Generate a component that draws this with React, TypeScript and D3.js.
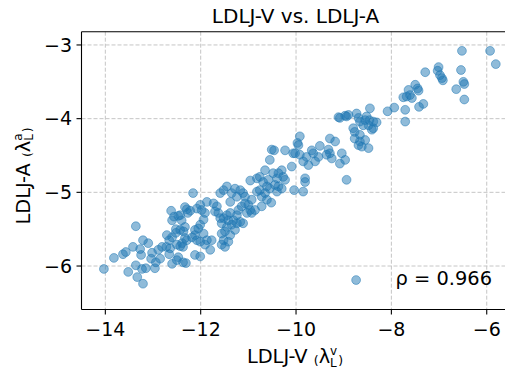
import * as d3 from "d3";

// LDLJ-V (x) and LDLJ-A (y)
const ldljV = [
  -14.03, -13.82, -13.63, -13.57, -13.52, -13.42, -13.36, -13.36, -13.33, -13.21,
  -13.23, -13.15, -13.25, -13.27, -13.21, -13.1, -13.02, -13.04, -12.96, -12.94,
  -12.85, -12.89, -12.81, -12.72, -12.66, -12.66, -12.71, -12.6, -12.52, -12.52,
  -12.6, -12.56, -12.62, -12.47, -12.64, -12.5, -12.47, -12.6, -12.5, -12.43,
  -12.39, -12.33, -12.37, -12.29, -12.18, -12.12, -12.08, -12.01, -12.31, -12.37,
  -12.16, -12.33, -12.29, -12.27, -12.22,
  -12.43, -12.4, -12.33, -12.43, -12.36, -12.12, -12.05, -12.01, -11.94, -11.91,
  -11.98, -11.87, -12.01, -12.08, -11.73, -11.66, -11.7, -11.63, -11.59, -11.56,
  -11.52, -11.45, -11.38, -11.42, -11.31, -11.35, -11.45, -11.49, -11.56, -11.52,
  -11.56, -11.49, -11.42, -11.38, -11.28, -11.24, -11.17, -11.11, -11.24, -11.21,
  -11.14, -11.07, -11.0, -10.96, -11.03, -10.93, -10.86, -11.59, -11.52, -11.45,
  -11.35, -11.28, -11.17, -11.11, -11.07, -11.24, -11.38, -10.93, -10.82, -10.96,
  -10.82, -11.94, -11.87, -11.77, -11.8, -11.91, -12.12, -12.01, -10.52, -10.4,
  -9.92, -9.97, -9.95, -10.02, -9.92, -9.29, -9.18, -9.5, -9.32, -9.29,
  -9.25, -9.36, -9.53, -9.6, -9.64, -9.67, -9.78, -9.74, -9.85, -9.11,
  -8.94, -10.51, -10.46, -10.55, -10.23, -10.06, -10.09, -10.3, -10.37, -10.48,
  -10.4, -10.27, -10.23, -10.65, -9.81, -9.81, -9.85, -10.04, -10.76, -10.69,
  -10.58, -10.61, -10.55, -10.44, -10.37, -10.3, -10.76, -10.65, -10.72, -10.61,
  -10.72,
  -8.73, -8.94, -9.08, -8.97, -8.9, -8.69, -8.66, -8.55, -8.52, -8.46,
  -8.38, -8.31, -8.48, -8.59, -8.41, -8.38, -8.8, -8.77, -8.77, -8.66,
  -8.55, -8.69, -8.62, -8.48, -8.66, -9.04, -8.97, -9.08, -8.45, -7.94,
  -8.08,
  -6.52, -5.93, -5.81, -6.54, -7.01, -7.03, -6.98, -6.94, -6.92, -7.29,
  -6.49, -6.47, -6.64, -6.47, -7.5, -7.45, -7.43, -7.64, -7.61, -7.68,
  -7.57, -7.33, -7.42, -7.71, -7.71, -7.75, -8.74,
];

const ldljA = [
  -6.04, -5.89, -5.84, -5.81, -6.08, -5.74, -5.46, -5.99, -6.15, -6.24,
  -6.04, -6.03, -5.85, -5.77, -5.65, -5.69, -5.82, -5.9, -6.03, -5.95,
  -5.9, -5.78, -5.74, -5.74, -5.84, -5.65, -5.58, -5.61, -5.55, -5.5,
  -5.38, -5.33, -5.25, -5.32, -5.76, -5.71, -5.88, -5.97, -5.92, -5.73,
  -5.69, -5.62, -5.74, -5.65, -5.61, -5.58, -5.65, -5.67, -5.96, -5.95,
  -5.01, -5.2, -5.23, -5.28, -5.25,
  -5.31, -5.38, -5.47, -5.51, -5.53, -5.51, -5.49, -5.44, -5.37, -5.28,
  -5.24, -5.13, -5.17, -5.22, -5.15, -5.19, -5.26, -5.28, -5.35, -5.42,
  -5.35, -5.31, -5.28, -5.38, -5.38, -5.44, -5.47, -5.53, -5.56, -5.65,
  -5.71, -5.74, -5.67, -5.58, -5.51, -5.42, -5.4, -5.42, -5.31, -5.24,
  -5.19, -5.15, -5.17, -5.24, -5.28, -5.28, -5.24, -5.01, -4.97, -4.92,
  -5.01, -4.95, -4.97, -5.01, -5.06, -5.06, -5.13, -5.1, -4.99, -4.84,
  -4.81, -5.56, -5.65, -5.65, -5.78, -5.71, -5.85, -5.87, -5.14, -4.99,
  -4.24, -4.33, -4.36, -4.47, -4.49, -4.27, -4.31, -4.37, -4.42, -4.47,
  -4.54, -4.49, -4.52, -4.58, -4.47, -4.43, -4.52, -4.63, -4.58, -3.98,
  -4.83, -4.42, -4.43, -4.56, -4.43, -4.47, -4.65, -4.7, -4.74, -4.74,
  -4.81, -4.79, -4.83, -4.7, -4.81, -4.86, -4.99, -4.97, -4.79, -4.86,
  -4.83, -4.92, -4.95, -4.9, -4.92, -4.95, -4.97, -5.01, -5.06, -5.1,
  -5.19,
  -3.93, -3.97, -3.99, -3.96, -3.95, -3.99, -4.04, -4.02, -3.97, -4.02,
  -4.04, -4.05, -4.09, -4.09, -4.15, -4.13, -4.13, -4.18, -4.27, -4.31,
  -4.29, -4.36, -4.38, -4.4, -4.22, -4.47, -4.56, -4.61, -3.86, -3.85,
  -3.9,
  -3.08, -3.08, -3.26, -3.34, -3.3, -3.35, -3.41, -3.45, -3.48, -3.37,
  -3.5, -3.53, -3.6, -3.74, -3.54, -3.59, -3.62, -3.61, -3.68, -3.7,
  -3.72, -3.8, -3.84, -3.88, -4.04, -3.71, -6.19,
];

const xTicks = [-14, -12, -10, -8, -6];
const yTicks = [-6, -5, -4, -3];
const title = "LDLJ-V vs. LDLJ-A";
const rhoLabel = "ρ = 0.966";

const W = 505;
const H = 373;
const left = 81.5;
const top = 31.7;
const right = 505.8;
const bottom = 309.5;
const blue = "#1f77b4";
const font = "DejaVu Sans, sans-serif";

export default function App() {
  const x = d3.scaleLinear().domain([-14.5, -5.6]).range([left, right]);
  const y = d3.scaleLinear().domain([-6.59, -2.82]).range([bottom, top]);
  const fmt = d3.format("d");
  const pts = d3.zip(ldljV, ldljA);

  return (
    <svg
      width={W}
      height={H}
      style={{ position: "absolute", left: 0, top: 0, background: "#fff" }}
      fontFamily={font}
    >
      {/* grid */}
      <g stroke="#b0b0b0" strokeWidth={0.9} strokeDasharray="4,2" opacity={0.8}>
        {xTicks.map((t) => (
          <line key={"gx" + t} x1={x(t)} x2={x(t)} y1={top} y2={bottom} />
        ))}
        {yTicks.map((t) => (
          <line key={"gy" + t} x1={left} x2={W} y1={y(t)} y2={y(t)} />
        ))}
      </g>

      {/* points */}
      <g fill={blue} stroke={blue} fillOpacity={0.5} strokeOpacity={0.5} strokeWidth={1}>
        {pts.map(([a, b], i) => (
          <circle key={i} cx={x(a)} cy={y(b)} r={4.4} />
        ))}
      </g>

      {/* spines */}
      <g stroke="#000" strokeWidth={1.1} fill="none">
        <line x1={left} x2={left} y1={top} y2={bottom} />
        <line x1={left} x2={W} y1={bottom} y2={bottom} />
        <line x1={left} x2={W} y1={top} y2={top} />
      </g>

      {/* x ticks */}
      {xTicks.map((t) => (
        <g key={"xt" + t} transform={`translate(${x(t)},${bottom})`}>
          <line y2={5} stroke="#000" strokeWidth={1.1} />
          <text y={26.5} textAnchor="middle" fontSize={19}>
            {fmt(t)}
          </text>
        </g>
      ))}

      {/* y ticks */}
      {yTicks.map((t) => (
        <g key={"yt" + t} transform={`translate(${left},${y(t)})`}>
          <line x2={-5} stroke="#000" strokeWidth={1.1} />
          <text x={-9.5} dy="0.35em" textAnchor="end" fontSize={19}>
            {fmt(t)}
          </text>
        </g>
      ))}

      <text x={295.5} y={23} textAnchor="middle" fontSize={20}>
        {title}
      </text>

      <text x={492} y={285} textAnchor="end" fontSize={19.4}>
        {rhoLabel}
      </text>

      {/* x label */}
      <text x={295} y={363} textAnchor="middle" fontSize={19.4}>
        {"LDLJ-V "}
        <tspan fontSize={12.5} dy={2.4}>(</tspan>
        <tspan fontSize={19.4} dy={-2.4}>λ</tspan>
        <tspan fontSize={12} dy={3.5}>L</tspan>
        <tspan fontSize={12} dx={-6.7} dy={-11.5}>v</tspan>
        <tspan fontSize={12.5} dx={1} dy={10.4}>)</tspan>
      </text>

      {/* y label */}
      <text
        transform="translate(29.5,176) rotate(-90)"
        textAnchor="middle"
        fontSize={19.4}
      >
        {"LDLJ-A "}
        <tspan fontSize={12.5} dy={2.4}>(</tspan>
        <tspan fontSize={19.4} dy={-2.4}>λ</tspan>
        <tspan fontSize={12} dy={3.5}>L</tspan>
        <tspan fontSize={12} dx={-6.7} dy={-11.5}>a</tspan>
        <tspan fontSize={12.5} dx={1} dy={10.4}>)</tspan>
      </text>
    </svg>
  );
}
